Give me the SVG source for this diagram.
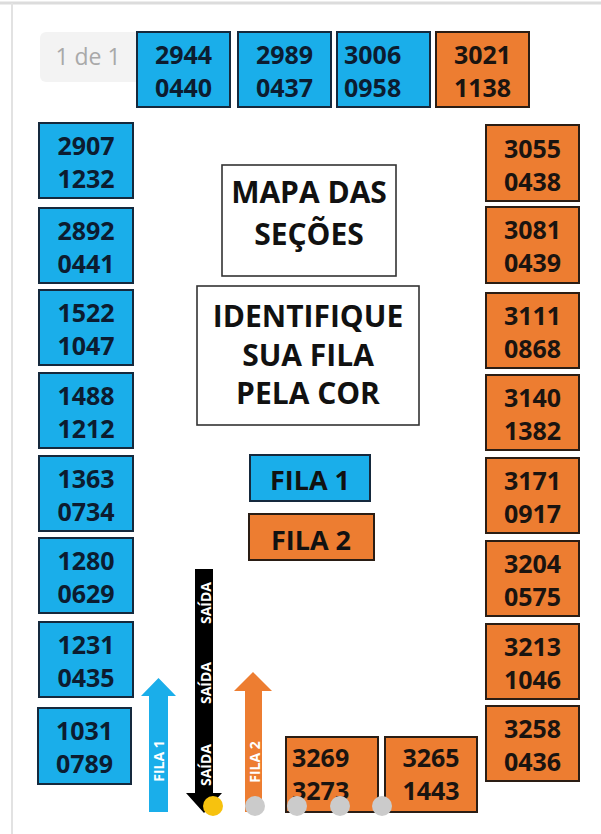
<svg xmlns="http://www.w3.org/2000/svg" width="601" height="834" viewBox="0 0 601 834">
<style>
.b{fill:#1aaeea;stroke:#15293d;stroke-width:2}
.o{fill:#ed7d31;stroke:#2a1d14;stroke-width:2}
.n{font-family:"Open Sans","Liberation Sans",sans-serif;font-weight:bold;font-size:25px;text-anchor:middle}
.n.s{text-anchor:start}
.nb{fill:#0c1c30}
.no{fill:#1a1410}
.t{font-family:"Open Sans","Liberation Sans",sans-serif;font-weight:bold;font-size:30px;text-anchor:middle;fill:#111}
.w{fill:#fff;stroke:#333;stroke-width:1.6}
.a{font-family:"Open Sans","Liberation Sans",sans-serif;font-weight:bold;font-size:14px;text-anchor:middle;fill:#fff;dominant-baseline:central}
.g{fill:#cbcbcb}
</style>
<rect x="0" y="0" width="601" height="834" fill="#fff"/>
<line x1="0" y1="3" x2="601" y2="3" stroke="#dcdcdc" stroke-width="3"/>
<line x1="12" y1="3" x2="12" y2="834" stroke="#e2e2e2" stroke-width="2"/>
<g id="pager">
<rect x="40" y="32" width="104" height="50" rx="6" fill="#f3f3f3"/>
<text x="88" y="65" font-family="Open Sans, Liberation Sans, sans-serif" font-size="23" fill="#a9a9a9" text-anchor="middle">1 de 1</text>
</g>
<g id="top-2944"><rect class="b" x="137" y="32" width="93" height="75"/><text class="n nb" x="183.5" y="64">2944</text><text class="n nb" x="183.5" y="97">0440</text></g>
<g id="top-2989"><rect class="b" x="238" y="32" width="93" height="75"/><text class="n nb" x="284.5" y="64">2989</text><text class="n nb" x="284.5" y="97">0437</text></g>
<g id="top-3006"><rect class="b" x="337" y="32" width="93" height="75"/><text class="n nb s" x="344" y="64">3006</text><text class="n nb s" x="344" y="97">0958</text></g>
<g id="top-3021"><rect class="o" x="436" y="32" width="93" height="75"/><text class="n no" x="482.5" y="64">3021</text><text class="n no" x="482.5" y="97">1138</text></g>

<g id="l-2907"><rect class="b" x="39" y="123" width="94" height="75"/><text class="n nb" x="86" y="155">2907</text><text class="n nb" x="86" y="188">1232</text></g>
<g id="l-2892"><rect class="b" x="39" y="208" width="94" height="75"/><text class="n nb" x="86" y="240">2892</text><text class="n nb" x="86" y="273">0441</text></g>
<g id="l-1522"><rect class="b" x="39" y="290" width="94" height="75"/><text class="n nb" x="86" y="322">1522</text><text class="n nb" x="86" y="355">1047</text></g>
<g id="l-1488"><rect class="b" x="39" y="373" width="94" height="75"/><text class="n nb" x="86" y="405">1488</text><text class="n nb" x="86" y="438">1212</text></g>
<g id="l-1363"><rect class="b" x="39" y="456" width="94" height="75"/><text class="n nb" x="86" y="488">1363</text><text class="n nb" x="86" y="521">0734</text></g>
<g id="l-1280"><rect class="b" x="39" y="538" width="94" height="75"/><text class="n nb" x="86" y="570">1280</text><text class="n nb" x="86" y="603">0629</text></g>
<g id="l-1231"><rect class="b" x="39" y="622" width="94" height="75"/><text class="n nb" x="86" y="654">1231</text><text class="n nb" x="86" y="687">0435</text></g>
<g id="l-1031"><rect class="b" x="38" y="708" width="93" height="76"/><text class="n nb" x="84.5" y="740">1031</text><text class="n nb" x="84.5" y="773">0789</text></g>

<g id="r-3055"><rect class="o" x="486" y="125" width="93" height="76"/><text class="n no" x="532.5" y="158">3055</text><text class="n no" x="532.5" y="191">0438</text></g>
<g id="r-3081"><rect class="o" x="486" y="207" width="93" height="76"/><text class="n no" x="532.5" y="239">3081</text><text class="n no" x="532.5" y="272">0439</text></g>
<g id="r-3111"><rect class="o" x="486" y="293" width="93" height="75"/><text class="n no" x="532.5" y="325">3111</text><text class="n no" x="532.5" y="358">0868</text></g>
<g id="r-3140"><rect class="o" x="486" y="375" width="93" height="75"/><text class="n no" x="532.5" y="407">3140</text><text class="n no" x="532.5" y="440">1382</text></g>
<g id="r-3171"><rect class="o" x="486" y="458" width="93" height="75"/><text class="n no" x="532.5" y="490">3171</text><text class="n no" x="532.5" y="523">0917</text></g>
<g id="r-3204"><rect class="o" x="486" y="541" width="93" height="75"/><text class="n no" x="532.5" y="573">3204</text><text class="n no" x="532.5" y="606">0575</text></g>
<g id="r-3213"><rect class="o" x="486" y="624" width="93" height="75"/><text class="n no" x="532.5" y="656">3213</text><text class="n no" x="532.5" y="689">1046</text></g>
<g id="r-3258"><rect class="o" x="486" y="706" width="93" height="75"/><text class="n no" x="532.5" y="738">3258</text><text class="n no" x="532.5" y="771">0436</text></g>

<g id="b-3269"><rect class="o" x="286" y="737" width="92" height="75"/><text class="n no s" x="292" y="767">3269</text><text class="n no s" x="292" y="800">3273</text></g>
<g id="b-3265"><rect class="o" x="385" y="737" width="92" height="75"/><text class="n no" x="431" y="767">3265</text><text class="n no" x="431" y="800">1443</text></g>

<g id="title"><rect class="w" x="222" y="165" width="174" height="111"/><text class="t" x="309" y="203">MAPA DAS</text><text class="t" x="309" y="245">SEÇÕES</text></g>
<g id="instr"><rect class="w" x="197" y="286" width="222" height="139"/><text class="t" x="308" y="327">IDENTIFIQUE</text><text class="t" x="308" y="366">SUA FILA</text><text class="t" x="308" y="404">PELA COR</text></g>
<g id="legend-fila1"><rect class="b" x="250" y="455" width="120" height="46"/><text class="t" x="310" y="490" style="font-size:27px">FILA 1</text></g>
<g id="legend-fila2"><rect class="o" x="249" y="514" width="125" height="46"/><text class="t" x="311" y="550" style="font-size:27px">FILA 2</text></g>

<g id="connectors">
<g id="arrow-saida">
<polygon points="195,569 213,569 213,793 222,793 204,813 186,793 195,793" fill="#000"/>
<text class="a" transform="translate(205,603) rotate(-90)">SAÍDA</text>
<text class="a" transform="translate(205,683) rotate(-90)">SAÍDA</text>
<text class="a" transform="translate(205,765) rotate(-90)">SAÍDA</text>
</g>
<g id="arrow-fila1">
<polygon points="149,812 149,696 141,696 158.5,678 176,696 168,696 168,812" fill="#1aaeea"/>
<text class="a" transform="translate(158.5,761) rotate(-90)">FILA 1</text>
</g>
<g id="arrow-fila2">
<polygon points="245,812 245,691 234,691 253,672 272,691 262,691 262,812" fill="#ed7d31"/>
<text class="a" transform="translate(254,762) rotate(-90)">FILA 2</text>
</g>
</g>
<g id="dots">
<circle cx="213" cy="806" r="10" fill="#f7c20e"/>
<circle class="g" cx="255" cy="806" r="10"/>
<circle class="g" cx="297" cy="806" r="10"/>
<circle class="g" cx="340" cy="806" r="10"/>
<circle class="g" cx="382" cy="806" r="10"/>
</g>
</svg>
